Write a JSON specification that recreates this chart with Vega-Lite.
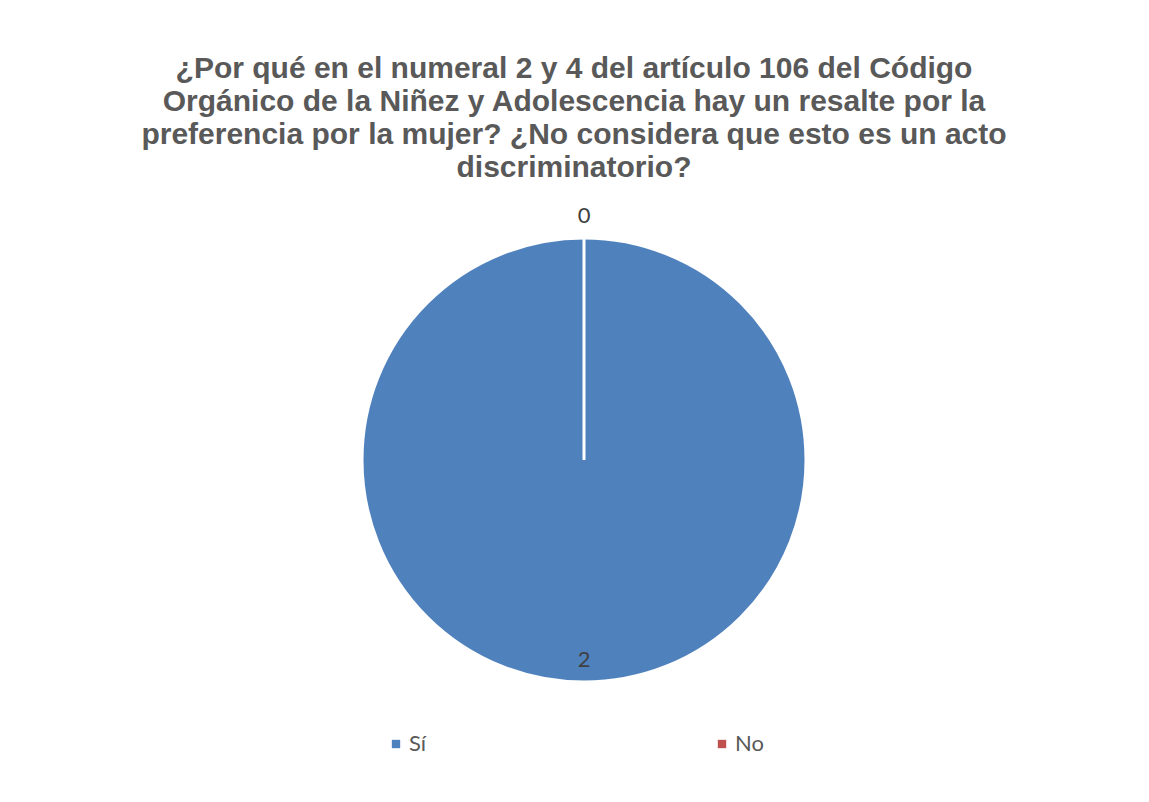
{
  "$schema": "https://vega.github.io/schema/vega-lite/v6.json",
  "width": 444,
  "height": 444,
  "autosize": {"type": "none"},
  "padding": {"left": 362, "top": 238, "right": 343, "bottom": 120},
  "background": "white",
  "config": {"view": {"stroke": null}},
  "title": {
    "text": ["¿Por qué en el numeral 2 y 4 del artículo 106 del Código", "Orgánico de la Niñez y Adolescencia hay un resalte por la", "preferencia por la mujer? ¿No considera que esto es un acto", "discriminatorio?"],
    "font": "Liberation Sans",
    "fontSize": 30,
    "fontWeight": "bold",
    "color": "#595959",
    "lineHeight": 33,
    "anchor": "middle",
    "dx": -10,
    "offset": 22
  },
  "data": {
    "values": [
      {"respuesta": "Sí", "valor": 2},
      {"respuesta": "No", "valor": 0}
    ]
  },
  "encoding": {
    "theta": {"field": "valor", "type": "quantitative", "stack": true},
    "color": {
      "field": "respuesta",
      "type": "nominal",
      "sort": ["Sí", "No"],
      "scale": {"domain": ["Sí", "No"], "range": ["#4F81BD", "#C0504D"]},
      "legend": {
        "title": null,
        "orient": "none",
        "direction": "horizontal",
        "legendX": 23,
        "legendY": 495,
        "symbolType": "square",
        "symbolSize": 70,
        "symbolStrokeWidth": 0,
        "labelFont": "Lato",
        "labelFontSize": 22,
        "labelColor": "#595959",
        "labelOffset": 2,
        "columnPadding": 284
      }
    }
  },
  "layer": [
    {
      "mark": {"type": "arc", "stroke": "white", "strokeWidth": 3}
    },
    {
      "transform": [{"filter": "datum.respuesta === 'Sí'"}],
      "mark": {"type": "text", "radius": 200, "font": "Lato", "fontSize": 22},
      "encoding": {"text": {"field": "valor", "type": "quantitative"}, "color": {"value": "#404040"}}
    },
    {
      "transform": [{"filter": "datum.respuesta === 'No'"}],
      "mark": {"type": "text", "radius": 244, "font": "Lato", "fontSize": 22},
      "encoding": {"text": {"field": "valor", "type": "quantitative"}, "color": {"value": "#404040"}}
    }
  ]
}
